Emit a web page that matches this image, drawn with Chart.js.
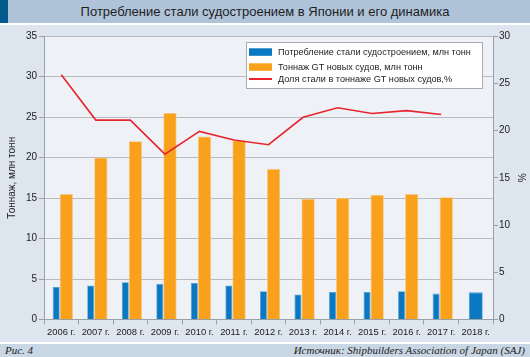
<!DOCTYPE html>
<html>
<head>
<meta charset="utf-8">
<script src="https://cdn.jsdelivr.net/npm/chart.js@4/dist/chart.umd.min.js"></script>
<style>
  html, body { margin: 0; padding: 0; }
  body { width: 530px; height: 357px; background: #dde5ee; position: relative; overflow: hidden; font-family: 'Liberation Sans', Arial, sans-serif; }
  #header { position: absolute; left: 0; top: 0; width: 530px; height: 23px; background: #afc3d9; }
  #header .sq { position: absolute; left: 0; top: 0; width: 8px; height: 23px; background: #005a8c; }
  #header .t { position: absolute; left: 0; top: 0; width: 530px; height: 23px; line-height: 23px; text-align: center; font-size: 13px; color: #1e1e1e; }
  #sep1 { position: absolute; left: 0; top: 23px; width: 530px; height: 2px; background: #ffffff; }
  #wrap { position: absolute; left: 0; top: 25px; width: 530px; height: 317px; }
  #sep2 { position: absolute; left: 0; top: 342px; width: 530px; height: 2px; background: #ffffff; }
  #footer { position: absolute; left: 0; top: 344px; width: 530px; height: 13px; background: #c9d6e4; font-family: 'Liberation Serif', 'DejaVu Serif', serif; font-style: italic; font-size: 11px; color: #222; }
  #footer .l { position: absolute; left: 5px; top: 0; line-height: 13px; }
  #footer .r { position: absolute; right: 5px; top: 0; line-height: 13px; }
</style>
</head>
<body>
<div id="header"><div class="sq"></div><div class="t">Потребление стали судостроением в Японии и его динамика</div></div>
<div id="sep1"></div>
<div id="wrap"><canvas id="c" width="530" height="317"></canvas></div>
<div id="sep2"></div>
<div id="footer"><span class="l">Рис. 4</span><span class="r">Источник: Shipbuilders Association of Japan (SAJ)</span></div>
<script>
const years = ['2006 г.', '2007 г.', '2008 г.', '2009 г.', '2010 г.', '2011 г.', '2012 г.', '2013 г.', '2014 г.', '2015 г.', '2016 г.', '2017 г.', '2018 г.'];
const steelConsumption = [4.0, 4.2, 4.6, 4.4, 4.5, 4.2, 3.5, 3.1, 3.4, 3.4, 3.5, 3.2, 3.35];
const tonnageGT = [15.5, 20.0, 22.0, 25.5, 22.6, 22.1, 18.6, 14.9, 15.0, 15.4, 15.5, 15.1, null];
const steelShare = [25.9, 21.1, 21.1, 17.5, 19.9, 19.0, 18.5, 21.4, 22.4, 21.8, 22.1, 21.7, null];
const labelSteel = 'Потребление стали судостроением, млн тонн';
const labelTonnage = 'Тоннаж GT новых судов, млн тонн';
const labelShare = 'Доля стали в тоннаже GT новых судов,%';
const leftTitle = 'Тоннаж, млн тонн';
const rightTitle = '%';

Chart.defaults.font.family = "'Liberation Sans', Arial, sans-serif";
Chart.defaults.font.size = 10;
Chart.defaults.color = '#222';

const plotBg = {
  id: 'plotBg',
  beforeDraw(chart) {
    const a = chart.chartArea, ctx = chart.ctx;
    ctx.save();
    ctx.fillStyle = '#eef2f7';
    ctx.fillRect(a.left, a.top, a.right - a.left, a.bottom - a.top);
    ctx.restore();
  }
};

const boxLegend = {
  id: 'boxLegend',
  afterDraw(chart) {
    const a = chart.chartArea, ctx = chart.ctx;
    const w = 237, h = 47;
    const x = a.right - 10 - w, y = a.top + 6;
    ctx.save();
    ctx.fillStyle = '#ffffff';
    ctx.fillRect(x, y, w, h);
    ctx.strokeStyle = '#a9adb3';
    ctx.lineWidth = 1;
    ctx.strokeRect(x + 0.5, y + 0.5, w - 1, h - 1);
    const rows = [10, 25, 37];
    const ds = chart.data.datasets;
    ctx.font = "9.1px 'Liberation Sans', Arial, sans-serif";
    ctx.textBaseline = 'middle';
    ctx.textAlign = 'left';
    ds.forEach((d, i) => {
      const cy = y + rows[i];
      if (d.type === 'line') {
        ctx.strokeStyle = d.borderColor;
        ctx.lineWidth = 2;
        ctx.beginPath();
        ctx.moveTo(x + 3, cy);
        ctx.lineTo(x + 26, cy);
        ctx.stroke();
      } else {
        ctx.fillStyle = d.backgroundColor;
        ctx.fillRect(x + 3, cy - 3.7, 23, 7.5);
      }
      ctx.fillStyle = '#222';
      ctx.fillText(d.label, x + 32, cy + 0.5);
    });
    ctx.restore();
  }
};

new Chart(document.getElementById('c'), {
  data: {
    labels: years,
    datasets: [
      { type: 'bar', label: labelSteel, data: steelConsumption, backgroundColor: '#0a77c1', borderColor: '#4d9fd6', borderWidth: 0.8, barPercentage: 0.69, categoryPercentage: 0.588, skipNull: true, yAxisID: 'y', order: 2 },
      { type: 'bar', label: labelTonnage, data: tonnageGT, backgroundColor: '#f9a11b', borderColor: '#f8c98a', borderWidth: 0.8, barPercentage: 1.31, categoryPercentage: 0.588, skipNull: true, yAxisID: 'y', order: 2 },
      { type: 'line', label: labelShare, data: steelShare, borderColor: '#e8252f', borderWidth: 1.6, pointRadius: 0, tension: 0, fill: false, yAxisID: 'y1', order: 0 }
    ]
  },
  options: {
    responsive: false,
    animation: false,
    devicePixelRatio: 1,
    layout: { padding: { top: 11, left: 0, right: 0, bottom: 0 } },
    plugins: { legend: { display: false }, tooltip: { enabled: false } },
    scales: {
      x: {
        grid: { offset: true, drawOnChartArea: false, drawTicks: true, tickLength: 5, color: '#9aa0a8' },
        border: { color: '#9aa0a8' },
        ticks: { font: { size: 9.4 }, color: '#222', padding: 2, maxRotation: 0, autoSkip: false },
        afterFit(s) { s.height = 22.5; }
      },
      y: {
        position: 'left', min: 0, max: 35,
        ticks: { stepSize: 5, font: { size: 10 }, color: '#222', padding: 2 },
        grid: { color: '#b7bbc1', tickLength: 5, tickColor: '#9aa0a8' },
        border: { color: '#9aa0a8' },
        title: { display: true, text: leftTitle, font: { size: 10 }, color: '#222', padding: { top: 6, bottom: 0 } },
        afterFit(s) { s.width = 44; }
      },
      y1: {
        position: 'right', min: 0, max: 30,
        ticks: { stepSize: 5, font: { size: 10 }, color: '#222', padding: 1 },
        grid: { drawOnChartArea: false, tickLength: 5, color: '#9aa0a8' },
        border: { color: '#9aa0a8' },
        title: { display: true, text: rightTitle, font: { size: 10 }, color: '#222', padding: { top: 3, bottom: 0 } },
        afterFit(s) { s.width = 37; }
      }
    }
  },
  plugins: [plotBg, boxLegend]
});
</script>
</body>
</html>
